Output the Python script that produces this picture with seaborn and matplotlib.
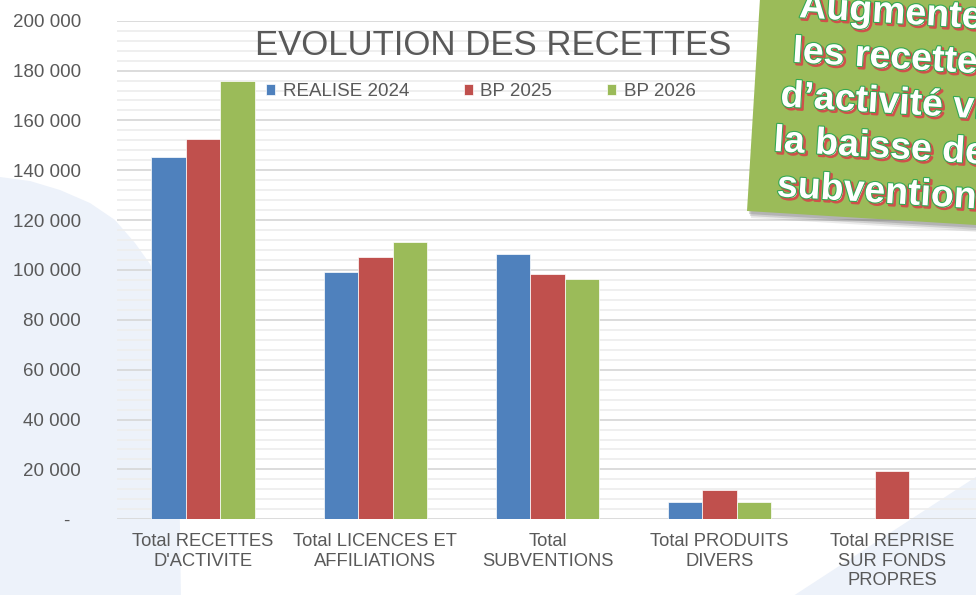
import numpy as np
import pandas as pd
import seaborn as sns
import matplotlib.pyplot as plt
import matplotlib.patheffects as pe
from matplotlib.patches import Polygon
from matplotlib.ticker import MultipleLocator, FuncFormatter

# Données
categories = ["Total RECETTES\nD'ACTIVITE", "Total LICENCES ET\nAFFILIATIONS",
              "Total\nSUBVENTIONS", "Total PRODUITS\nDIVERS",
              "Total REPRISE\nSUR FONDS\nPROPRES"]
series = ['REALISE 2024', 'BP 2025', 'BP 2026']
realise_2024 = [145300, 99300, 106300, 7000, np.nan]
bp_2025 = [152700, 105300, 98300, 11600, 19300]
bp_2026 = [175700, 111100, 96300, 7000, np.nan]
colors = ['#4F81BD', '#C0504D', '#9BBB59']
callout = ['Augmenter', 'les recettes', 'd’activité via', 'la baisse des', 'subventions']

rows = []
for s, vals in zip(series, [realise_2024, bp_2025, bp_2026]):
    for c, v in zip(categories, vals):
        if not np.isnan(v):
            rows.append({'categorie': c, 'serie': s, 'montant': v})
df = pd.DataFrame(rows)

sns.set_style('white')
plt.rcParams['font.family'] = ['Liberation Sans', 'DejaVu Sans']
grey = '#595959'

W, H = 976, 595
fig = plt.figure(figsize=(W / 100, H / 100), dpi=100)

# fond décoratif
bg = fig.add_axes([0, 0, 1, 1], zorder=0)
bg.set_xlim(0, W)
bg.set_ylim(H, 0)
bg.axis('off')
pale = '#EDF2FA'
bg.add_patch(Polygon([(0, 177), (30, 181), (60, 190), (90, 203), (115, 220), (135, 243),
                      (150, 264), (162, 290), (171, 330), (177, 390), (179, 460),
                      (181, 600), (0, 600)], closed=True, color=pale, lw=0))
bg.add_patch(Polygon([(787, 600), (985, 471), (985, 600)], closed=True, color=pale, lw=0))

# graphique
ax = fig.add_axes([117 / W, 75.7 / H, 861 / W, 498.6 / H], zorder=1)
ax.set_facecolor('none')
sns.barplot(data=df, x='categorie', y='montant', hue='serie', hue_order=series,
            order=categories, palette=colors, saturation=1, width=0.6,
            errorbar=None, edgecolor='white', linewidth=0.5, ax=ax)

ax.set_ylim(0, 200000)
ax.yaxis.set_major_locator(MultipleLocator(20000))
ax.yaxis.set_minor_locator(MultipleLocator(4000))
ax.yaxis.set_major_formatter(FuncFormatter(
    lambda v, p: '-  ' if v == 0 else f'{v:,.0f}'.replace(',', ' ')))
ax.grid(which='major', axis='y', color='#D9D9D9', lw=1.3)
ax.grid(which='minor', axis='y', color='#EEEEEE', lw=1.3)
ax.set_axisbelow(True)
for sp in ax.spines.values():
    sp.set_visible(False)
ax.tick_params(axis='y', which='both', length=0, pad=26, labelsize=13.5, labelcolor=grey)
ax.tick_params(axis='x', length=0, pad=10, labelsize=13.2, labelcolor=grey)
ax.set_xlabel('')
ax.set_ylabel('')

handles, labels = ax.get_legend_handles_labels()
ax.legend_.remove()
fig.legend(handles, labels, loc='center left', bbox_to_anchor=(266 / W, 1 - 91.5 / H),
           ncol=3, frameon=False, handlelength=0.5, handleheight=0.5,
           handletextpad=0.4, columnspacing=2.9, borderpad=0, borderaxespad=0,
           fontsize=13.5, labelcolor=grey)

fig.text(493 / W, 1 - 55 / H, 'EVOLUTION DES RECETTES', ha='center', va='baseline',
         fontsize=25, color=grey)

# encadré vert
ov = fig.add_axes([0, 0, 1, 1], zorder=2)
ov.set_xlim(0, W)
ov.set_ylim(H, 0)
ov.axis('off')
ov.set_facecolor('none')
ang = np.deg2rad(3.5)
u = np.array([np.cos(ang), np.sin(ang)])
v = np.array([np.sin(ang), -np.cos(ang)])
p0 = np.array([747.0, 211.0])
box = [p0, p0 + 300 * u, p0 + 300 * u + 280 * v, p0 + 280 * v]
for off, a in [((2, 3), 0.25), ((3, 5), 0.2), ((4, 7), 0.12)]:
    ov.add_patch(Polygon([pt + np.array(off) for pt in box], closed=True,
                         color='#606060', alpha=a, lw=0))
ov.add_patch(Polygon(box, closed=True, color='#9BBB59', lw=0))

c3 = np.array([890.0, 148.0])
effects = [pe.Stroke(linewidth=2, foreground='#D0504A', offset=(1.5, -1.5)),
           pe.Stroke(linewidth=1.6, foreground='#33A852'),
           pe.Normal()]
for k, line in enumerate(callout):
    x, y = c3 + (3 - k) * 45 * v
    ov.text(x, y, line, ha='center', va='center', rotation=-3.5, rotation_mode='anchor',
            fontsize=27, fontweight='bold', color='white', path_effects=effects)

fig.savefig('out.png', dpi=100)
